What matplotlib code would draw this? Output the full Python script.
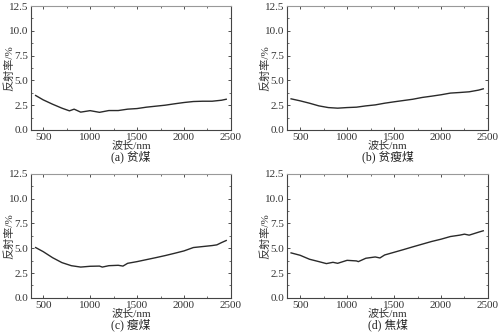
import numpy as np
import matplotlib
matplotlib.use('Agg')
from matplotlib import pyplot as plt
from matplotlib.ticker import MultipleLocator

plt.rcParams['font.family'] = ['Liberation Serif', 'Noto Sans CJK SC']
plt.rcParams['mathtext.fontset'] = 'stix'

#%% Reflectance spectra of four coal samples
wl_a = [420, 500, 600, 700, 780, 830, 900, 1000, 1100, 1200, 1300, 1400, 1500,
        1600, 1700, 1800, 1900, 2000, 2100, 2200, 2300, 2400, 2450]
refl_a = [3.48, 3.04, 2.60, 2.20, 1.93, 2.10, 1.80, 1.95, 1.78, 1.96, 1.96, 2.10, 2.16,
          2.30, 2.40, 2.50, 2.64, 2.77, 2.87, 2.90, 2.90, 3.00, 3.10]

wl_b = [404, 500, 600, 700, 800, 900, 1000, 1100, 1200, 1300, 1400, 1500, 1600,
        1700, 1800, 1900, 2000, 2100, 2200, 2300, 2400, 2450]
refl_b = [3.14, 2.94, 2.70, 2.43, 2.26, 2.20, 2.26, 2.30, 2.43, 2.53, 2.70, 2.84, 2.97,
          3.10, 3.28, 3.41, 3.55, 3.72, 3.78, 3.85, 4.02, 4.15]

wl_c = [420, 500, 600, 700, 800, 900, 1000, 1100, 1130, 1200, 1300, 1350, 1400,
        1500, 1600, 1700, 1800, 1900, 2000, 2100, 2200, 2300, 2350, 2400, 2450]
refl_c = [5.07, 4.66, 4.05, 3.55, 3.24, 3.10, 3.18, 3.20, 3.10, 3.24, 3.28, 3.20, 3.48,
          3.65, 3.85, 4.05, 4.26, 4.49, 4.73, 5.07, 5.17, 5.27, 5.34, 5.57, 5.78]

wl_d = [404, 500, 600, 700, 780, 850, 900, 1000, 1100, 1120, 1200, 1300, 1350, 1400,
        1500, 1600, 1700, 1800, 1900, 2000, 2100, 2200, 2250, 2300, 2400, 2450]
refl_d = [4.53, 4.29, 3.89, 3.65, 3.45, 3.58, 3.48, 3.78, 3.72, 3.65, 3.99, 4.12, 4.02, 4.32,
          4.59, 4.86, 5.14, 5.41, 5.68, 5.91, 6.18, 6.32, 6.42, 6.32, 6.62, 6.76]

captions = ['(a) 贫煤', '(b) 贫瘦煤', '(c) 瘦煤', '(d) 焦煤']
series = [(wl_a, refl_a), (wl_b, refl_b), (wl_c, refl_c), (wl_d, refl_d)]

# axes boxes in figure fraction [left, bottom, width, height]
boxes = [[0.062, 0.612, 0.398, 0.370],
         [0.572, 0.612, 0.400, 0.370],
         [0.062, 0.111, 0.398, 0.370],
         [0.572, 0.111, 0.400, 0.370]]
xlims = [(372, 2500), (362, 2500), (372, 2500), (362, 2500)]

fig = plt.figure(figsize=(5.02, 3.35), dpi=100)
for (x, y), cap, box, xl in zip(series, captions, boxes, xlims):
    ax = fig.add_axes(box)
    ax.plot(x, y, color='#2a2a2a', lw=1.0)
    ax.set_xlim(xl)
    ax.set_ylim(0, 12.5)
    ax.xaxis.set_major_locator(MultipleLocator(500))
    ax.xaxis.set_minor_locator(MultipleLocator(250))
    ax.yaxis.set_major_locator(MultipleLocator(2.5))
    ax.yaxis.set_minor_locator(MultipleLocator(1.25))
    ax.yaxis.set_major_formatter(matplotlib.ticker.FormatStrFormatter('%.1f'))
    ax.tick_params(which='both', direction='in', top=True, right=True,
                   labelsize=8, colors='#333333', pad=2)
    ax.tick_params(which='major', length=2.5, width=0.6)
    ax.tick_params(which='minor', length=1.5, width=0.5)
    for s in ax.spines.values():
        s.set_color('#444444')
        s.set_linewidth(0.8)
    ax.spines['top'].set_color('#999999')
    ax.set_xlabel('波长/nm', fontsize=8, labelpad=-1, color='#333333')
    ax.set_ylabel('反射率/%', fontsize=8, color='#333333')
    ax.yaxis.set_label_coords(-0.085, 0.5)
    ax.text(0.5, -0.22, cap, transform=ax.transAxes, ha='center', va='center',
            fontsize=8.5, color='#222222')

fig.savefig('out.png', dpi=100)
